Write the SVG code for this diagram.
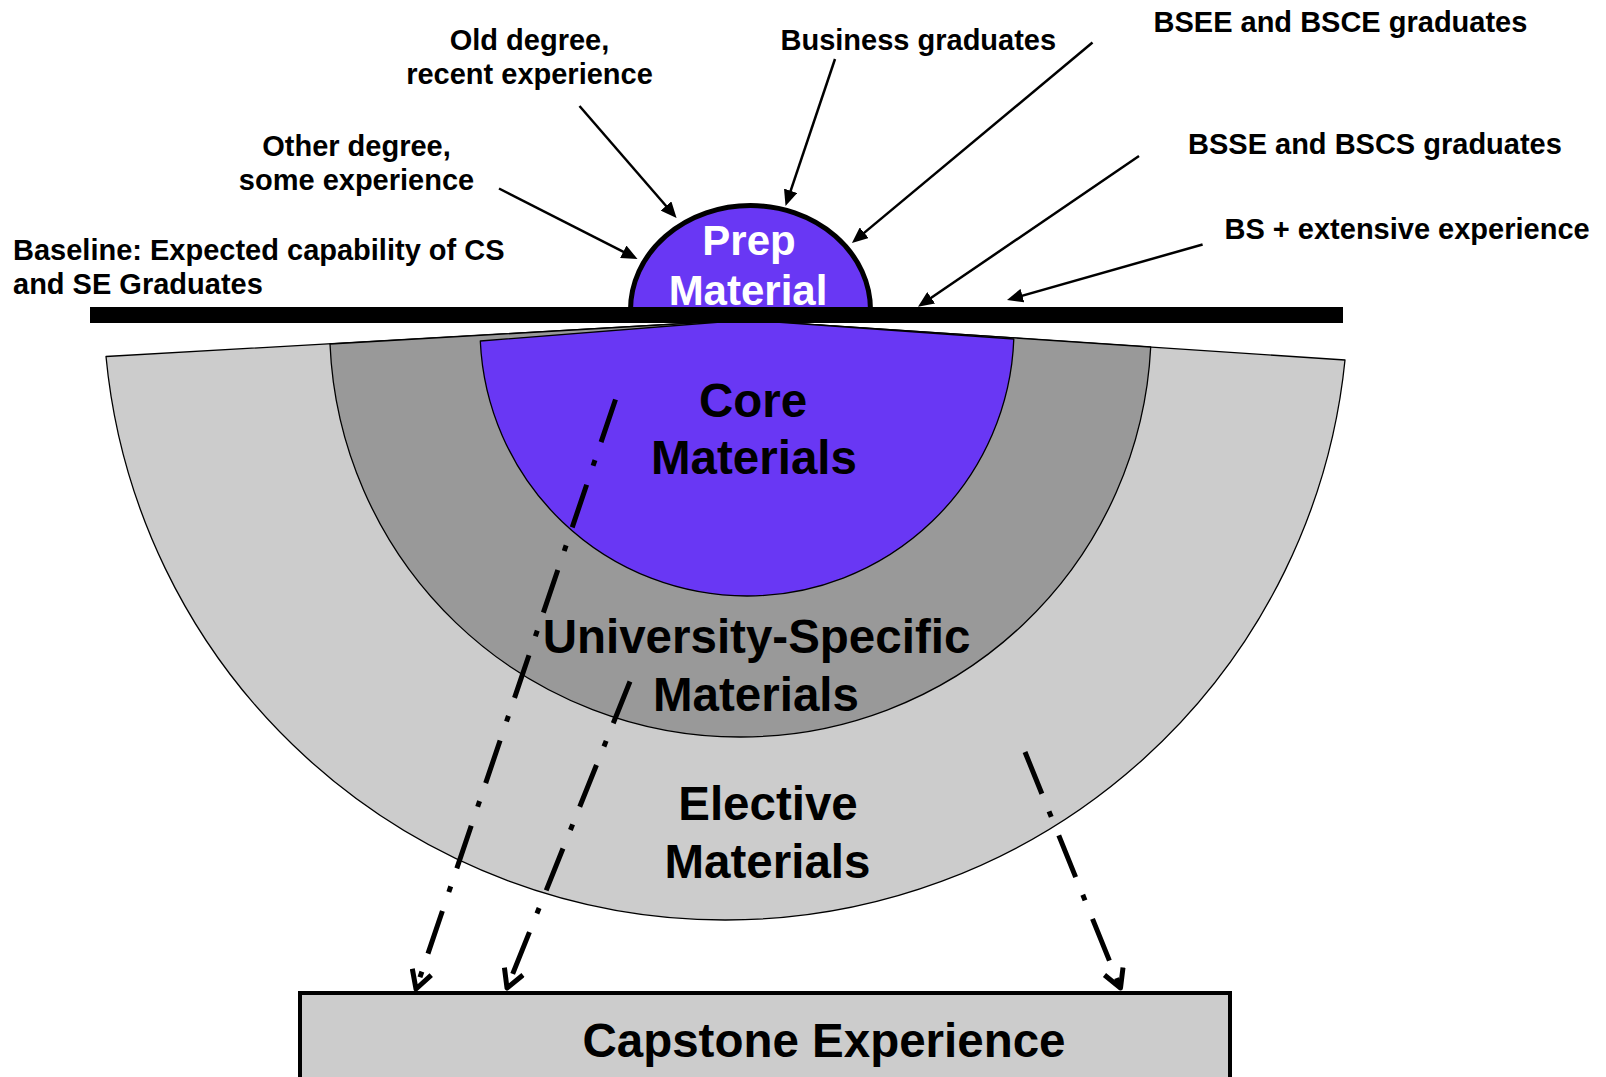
<svg xmlns="http://www.w3.org/2000/svg" width="1606" height="1077" viewBox="0 0 1606 1077">
  <style>
    .lbl { font-family: "Liberation Sans", Arial, sans-serif; font-weight: bold; font-size: 29px; fill: #000; }
    .big { font-family: "Liberation Sans", Arial, sans-serif; font-weight: bold; font-size: 47.5px; fill: #000; text-anchor: middle; }
    .prep-t { font-family: "Liberation Sans", Arial, sans-serif; font-weight: bold; font-size: 42px; fill: #fff; text-anchor: middle; }
    .sector { stroke: #000; stroke-width: 1.3; stroke-linejoin: round; }
    .feed { stroke: #000; stroke-width: 2.5; fill: none; }
    .flow { stroke: #000; stroke-width: 5; fill: none; stroke-dasharray: 45 19 6 20; }
  </style>
  <defs>
    <marker id="tri" viewBox="0 0 16 14" refX="8" refY="7" markerWidth="16" markerHeight="14" markerUnits="userSpaceOnUse" orient="auto">
      <path d="M0,0 L16,7 L0,14 z" fill="#000"/>
    </marker>
    <marker id="vee" viewBox="0 0 24 24" refX="21" refY="12" markerWidth="24" markerHeight="24" markerUnits="userSpaceOnUse" orient="auto">
      <path d="M3,2 L21,12 L3,22" fill="none" stroke="#000" stroke-width="5" stroke-linejoin="round"/>
    </marker>
  </defs>
  <rect width="1606" height="1077" fill="#fff"/>

  <g id="elective">
    <path class="sector" fill="#CCCCCC" d="M746,320 L106,356.5 A622.5,622.5 0 0 0 725,920 A622.5,622.5 0 0 0 1345,360 Z"/>
  </g>
  <g id="university-specific">
    <path class="sector" fill="#999999" d="M746,320 L330,344 A410.4,410.4 0 0 0 740,737 A410.4,410.4 0 0 0 1150.7,347 Z"/>
  </g>
  <g id="core">
    <path class="sector" fill="#6937F4" d="M746,320 L480.3,341 A267,267 0 0 0 747,596 A267,267 0 0 0 1013.8,339 Z"/>
  </g>

  <g id="core-text">
    <text class="big" x="753" y="417">Core</text>
    <text class="big" x="754" y="474">Materials</text>
  </g>
  <g id="university-text">
    <text class="big" x="756.5" y="653">University-Specific</text>
    <text class="big" x="756" y="711">Materials</text>
  </g>
  <g id="elective-text">
    <text class="big" x="768" y="820">Elective</text>
    <text class="big" x="767.5" y="877.5">Materials</text>
  </g>

  <g id="prep">
    <path d="M630.5,314 L630.5,310 A120,104.5 0 0 1 870.5,310 L870.5,314" fill="#6937F4" stroke="#000" stroke-width="5"/>
    <text class="prep-t" x="749" y="255">Prep</text>
    <text class="prep-t" x="748" y="305">Material</text>
  </g>

  <g id="baseline-bar">
    <rect x="90" y="307" width="1253" height="16" fill="#000"/>
  </g>

  <g id="capstone">
    <rect x="300" y="993" width="930" height="100" fill="#CCCCCC" stroke="#000" stroke-width="4"/>
    <text class="big" x="824" y="1057">Capstone Experience</text>
  </g>

  <g id="label-baseline">
    <text class="lbl" x="13" y="259.5">Baseline: Expected capability of CS</text>
    <text class="lbl" x="13" y="293.5">and SE Graduates</text>
  </g>
  <g id="label-other">
    <text class="lbl" x="356.5" y="155.5" text-anchor="middle">Other degree,</text>
    <text class="lbl" x="356.5" y="190" text-anchor="middle">some experience</text>
  </g>
  <g id="label-old">
    <text class="lbl" x="529.5" y="50" text-anchor="middle">Old degree,</text>
    <text class="lbl" x="529.5" y="84" text-anchor="middle">recent experience</text>
  </g>
  <g id="label-business">
    <text class="lbl" x="780.5" y="49.5">Business graduates</text>
  </g>
  <g id="label-bsee">
    <text class="lbl" x="1153.5" y="31.5">BSEE and BSCE graduates</text>
  </g>
  <g id="label-bsse">
    <text class="lbl" x="1188" y="154">BSSE and BSCS graduates</text>
  </g>
  <g id="label-bsext">
    <text class="lbl" x="1224.5" y="239">BS + extensive experience</text>
  </g>

  <g id="connectors">
    <line class="feed" x1="499" y1="188.5" x2="630.4" y2="255.4" marker-end="url(#tri)"/>
    <line class="feed" x1="579.5" y1="106" x2="671.3" y2="212" marker-end="url(#tri)"/>
    <line class="feed" x1="835" y1="59" x2="788.1" y2="198.4" marker-end="url(#tri)"/>
    <line class="feed" x1="1092.5" y1="42.5" x2="858.1" y2="237.9" marker-end="url(#tri)"/>
    <line class="feed" x1="1139" y1="156" x2="924.6" y2="302.3" marker-end="url(#tri)"/>
    <line class="feed" x1="1202.6" y1="244.5" x2="1014.7" y2="297.8" marker-end="url(#tri)"/>

    <line class="flow" x1="615.5" y1="399.5" x2="416" y2="989" marker-end="url(#vee)"/>
    <line class="flow" x1="630" y1="681.5" x2="507" y2="988" marker-end="url(#vee)"/>
    <line class="flow" x1="1025" y1="752" x2="1120.5" y2="988" marker-end="url(#vee)"/>
  </g>
</svg>
